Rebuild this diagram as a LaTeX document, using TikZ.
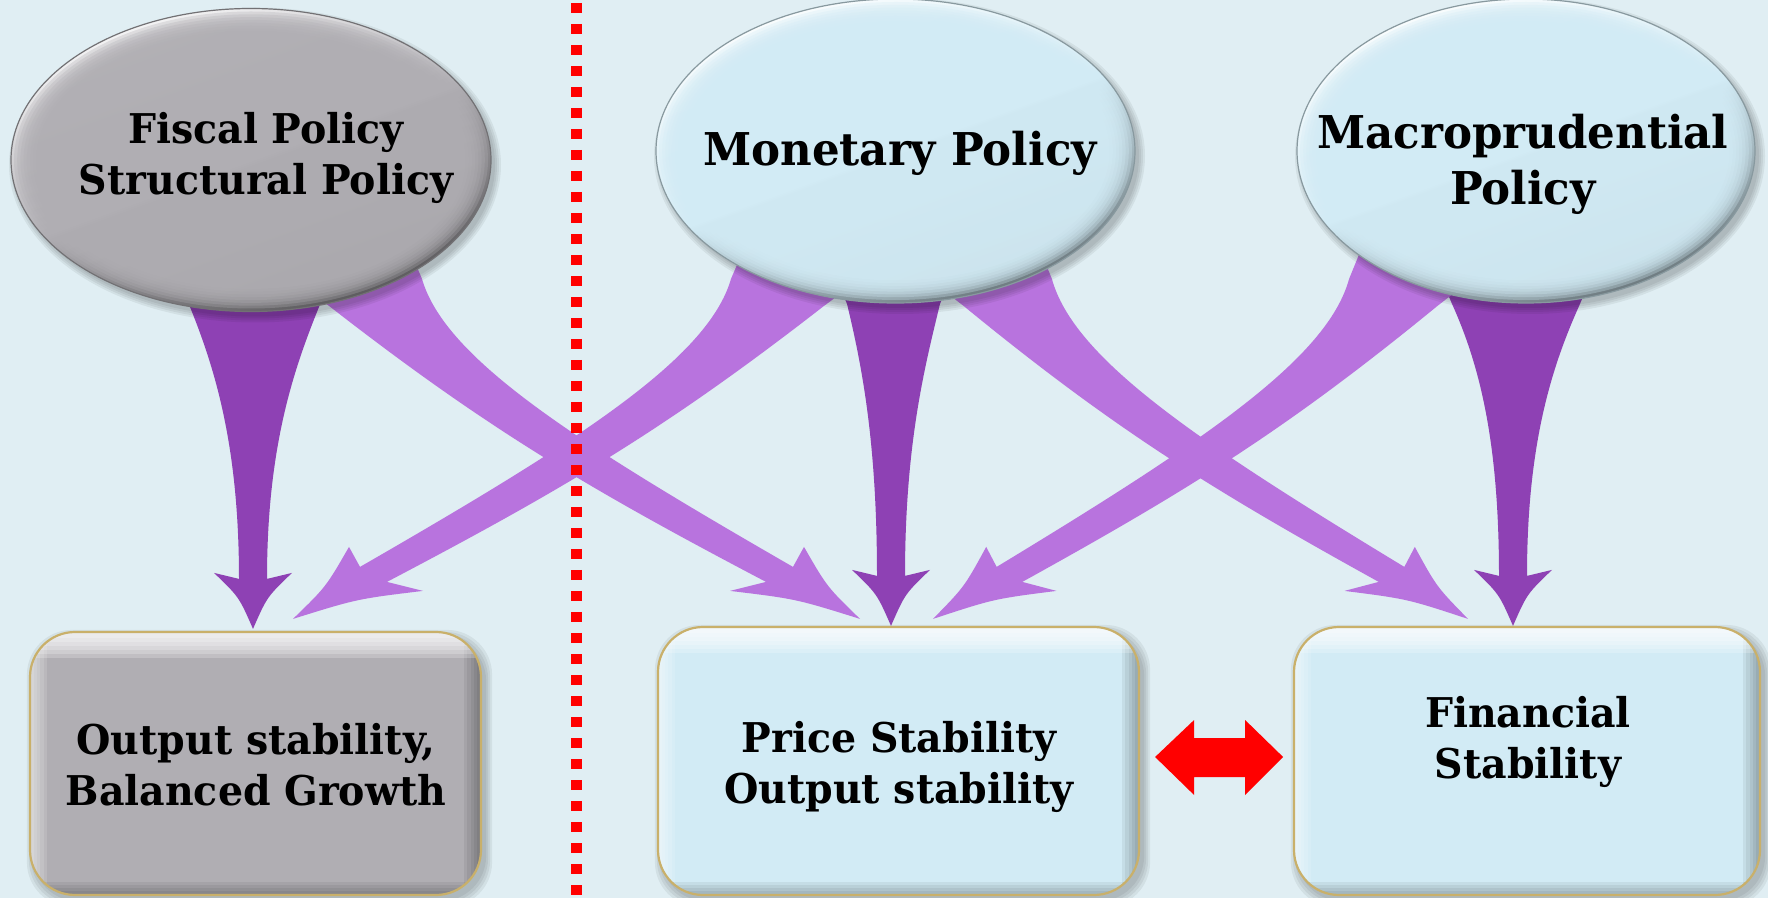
\documentclass[tikz,border=0pt]{standalone}
\usepackage{fontspec}
\usetikzlibrary{calc, backgrounds, shapes.geometric}
\newfontfamily\diagfont{DejaVu Serif Condensed}[FakeStretch=1.07]

\definecolor{Pale_Sky}{HTML}{E0EEF3}
\definecolor{Pewter}{HTML}{B0AEB3}
\definecolor{Ice_Blue}{HTML}{D2EBF5}
\definecolor{Plum}{HTML}{8E41B4}
\definecolor{Orchid}{HTML}{B873DE}
\definecolor{Rim_Gold}{HTML}{C9B06A}

% straight tapered arrow, tip at the origin
\newcommand{\droparrow}[3]{%
  \fill[plumarrow] (-14,-50) .. controls (-14,-183) and (#1+#3,-260) .. (#1,-322)
    -- (#1-16,-360) -- (#2+16,-360) -- (#2,-322)
    .. controls (#2-#3,-260) and (14,-183) .. (14,-50)
    -- (39,-56) .. controls (14,-32) .. (0,0)
    .. controls (-14,-32) .. (-39,-56) -- cycle;}

% curved tapered arrow coming in from the upper left, tip at the origin
\newcommand{\sweeparrow}{%
  \fill[orchidarrow] (-561,-335) -- (-531,-313)
    .. controls (-373,-190) and (-271,-130) .. (-94,-37)
    -- (-130,-28) .. controls (-64,-20) .. (0,0)
    .. controls (-33,-32) .. (-56,-72) -- (-67,-52)
    .. controls (-284,-177) and (-415,-260) .. (-438,-340)
    -- (-453,-375) -- cycle;}

\begin{document}
\begin{tikzpicture}[x=0.5pt, y=-0.5pt,
    badge/.style n args={3}{ellipse, draw=#1!65!black, line width=0.6pt, inner sep=0pt,
      minimum width=#2, minimum height=#3,
      top color=#1!10!white, bottom color=#1!50!black, middle color=#1, shading angle=20,
      path picture={
        \foreach \k in {0,...,7}
          \fill[#1, opacity=.3] (path picture bounding box.center)
            ellipse [x radius={0.5*#2-1.5pt-1.6pt*\k}, y radius={0.5*#3-1.5pt-1.4pt*\k}];}},
    goal/.style={rounded corners=22.5pt, draw=Rim_Gold, line width=1.1pt, inner sep=0pt,
      minimum height=134pt, fill=#1,
      path picture={
        \foreach \k in {0,...,4} {
          \fill[white, opacity=.13, sharp corners] (path picture bounding box.south west)
            rectangle ([xshift=2pt+1.6pt*\k]path picture bounding box.north west);
          \fill[black, opacity=.06, sharp corners] (path picture bounding box.north east)
            rectangle ([xshift=-2pt-1.6pt*\k]path picture bounding box.south east);
        }
        \foreach \k in {0,...,5}
          \fill[white, opacity=.22, sharp corners] (path picture bounding box.north west)
            rectangle ([yshift=-3pt-2pt*\k]path picture bounding box.north east);
        \foreach \k in {0,...,3}
          \fill[black, opacity=.06, sharp corners] (path picture bounding box.south west)
            rectangle ([yshift=2pt+1.5pt*\k]path picture bounding box.south east);}},
    caption/.style={font=\diagfont\bfseries\fontsize{20.5}{25.5}\selectfont, align=center, inner sep=0pt},
    bigcaption/.style={caption, font=\diagfont\bfseries\fontsize{22.6}{28}\selectfont},
    plumarrow/.style={fill=Plum},
    orchidarrow/.style={fill=Orchid},
    softshadow/.style={fill=black, opacity=.06},
    divider/.style={draw=red, line width=5.5pt, dash pattern=on 5pt off 5.5pt}]

    \useasboundingbox (0,0) rectangle (1768,898);

    % Policy ellipses
    \node[badge={Pewter}{240pt}{151.5pt}] (fiscal) at (251,160) {};
    \node[badge={Ice_Blue}{239.5pt}{152pt}] (monetary) at (895.5,151) {};
    \node[badge={Ice_Blue}{229pt}{152pt}] (macro) at (1526,151) {};

    % Goal boxes
    \node[goal=Pewter, minimum width=225.5pt, minimum height=131.5pt] (output) at (255.5,763.5) {};
    \node[goal=Ice_Blue, minimum width=240.5pt] (price) at (898.5,761) {};
    \node[goal=Ice_Blue, minimum width=233pt] (finstab) at (1527,761) {};

    % Labels
    \node[caption] (fiscal-txt) at (266,158) {Fiscal Policy\\Structural Policy};
    \node[bigcaption] (monetary-txt) at (900,153.5) {Monetary Policy};
    \node[bigcaption] (macro-txt) at (1523,164) {Macroprudential\\Policy};
    \node[caption] (output-txt) at (256,765) {Output stability,\\Balanced Growth};
    \node[caption] (price-txt) at (899,767) {Price Stability\\Output stability};
    \node[caption] (finstab-txt) at (1528,742) {Financial\\Stability};

    % Two-way link between the stability goals
    \fill[red] ($(price.east)+(15,-4)$) -- ++(39,-37) -- ++(0,18) -- ++(51,0) -- ++(0,-18)
        -- ++(38,37) -- ++(-38,38) -- ++(0,-18) -- ++(-51,0) -- ++(0,18) -- cycle;

    \begin{pgfonlayer}{background}
        \fill[Pale_Sky] (0,0) rectangle (1768,898);

        % Direct arrows
        \begin{scope}[shift={($(output.north)+(-2.5,-2)$)}] \droparrow{-63}{66}{25} \end{scope}
        \begin{scope}[shift={($(price.north)+(-7.5,0)$)}] \droparrow{-44}{49}{15} \end{scope}
        \begin{scope}[shift={($(finstab.north)+(-14,0)$)}] \droparrow{-61}{67}{28} \end{scope}

        % Crossing arrows
        \begin{scope}[shift={($(price.north)+(-38.5,-7)$)}] \sweeparrow \end{scope}
        \begin{scope}[shift={($(output.north)+(37.5,-12)$)}, xscale=-1] \sweeparrow \end{scope}
        \begin{scope}[shift={($(finstab.north)+(-59,-7)$)}, xscale=0.95] \sweeparrow \end{scope}
        \begin{scope}[shift={($(price.north)+(34.5,-7)$)}, xscale=-0.95] \sweeparrow \end{scope}

        % Divider
        \draw[divider] (576,3) -- (576,898);

        % Soft shadows under ellipses and boxes
        \foreach \n/\rx/\ry in {fiscal/120pt/75.75pt, monetary/119.75pt/76pt, macro/114.5pt/76pt}
            \foreach \b in {0pt,1pt,2pt,3pt}
                \fill[softshadow] ([shift={(2pt,-2.5pt)}]\n.center) ellipse [x radius=\rx+\b, y radius=\ry+\b];
        \foreach \n in {output, price, finstab}
            \foreach \b in {0pt,1pt,2pt,3pt}
                \fill[softshadow, rounded corners=22.5pt] ([shift={(2pt-\b,-2.5pt-\b)}]\n.south west)
                    rectangle ([shift={(2pt+\b,-2.5pt+\b)}]\n.north east);
    \end{pgfonlayer}
\end{tikzpicture}
\end{document}
